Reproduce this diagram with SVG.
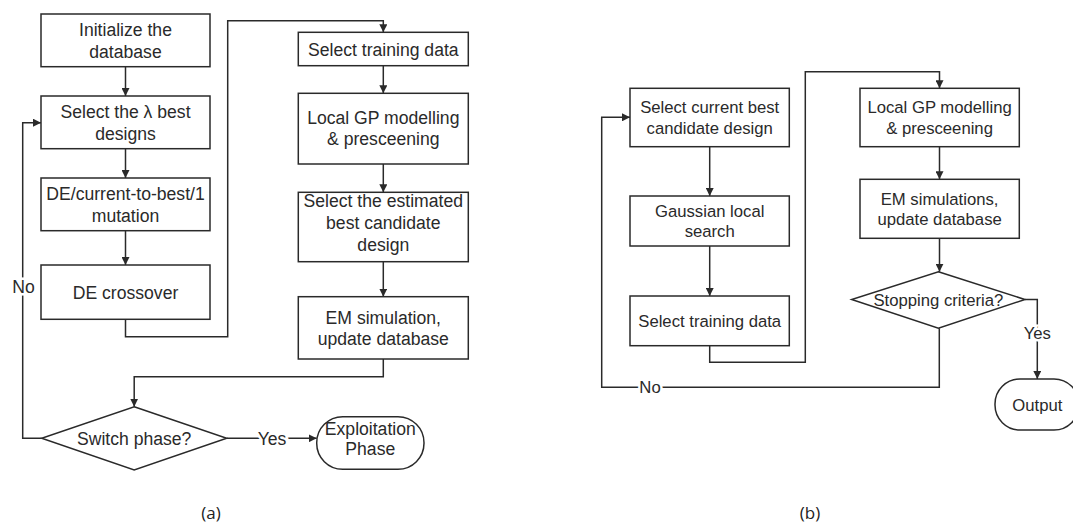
<svg xmlns="http://www.w3.org/2000/svg" width="1073" height="525" viewBox="0 0 1073 525">
  <style>
    .box { fill: #fff; stroke: #2a2a2a; stroke-width: 1.5; }
    .wire { fill: none; stroke: #2a2a2a; stroke-width: 1.5; }
    .arrow { marker-end: url(#head); }
    text { font-family: "Liberation Sans", Arial, sans-serif; fill: #2a2a2a; text-anchor: middle; }
    .l { font-size: 17.6px; }
    .r { font-size: 16.7px; }
    .tag { stroke: #fff; stroke-width: 5; paint-order: stroke; }
    .cap { font-family: "Open Sans", "Liberation Sans", sans-serif; font-size: 17px; fill: #222; }
  </style>
  <defs>
    <marker id="head" markerUnits="userSpaceOnUse" markerWidth="9" markerHeight="8" refX="8" refY="4" orient="auto">
      <path d="M0,0 L8,4 L0,8 z" fill="#2a2a2a"/>
    </marker>
  </defs>
  <rect width="1073" height="525" fill="#fff"/>

  <!-- connectors -->
  <g id="connectors">
    <!-- panel (a) -->
    <path class="wire arrow" d="M125.5,66.7 V96"/>
    <path class="wire arrow" d="M125.5,148.7 V178"/>
    <path class="wire arrow" d="M125.5,230.7 V265"/>
    <path class="wire arrow" d="M125.5,319.3 V336.7 H227.7 V20.7 H383.3 V32.3"/>
    <path class="wire arrow" d="M383.3,65.7 V93.3"/>
    <path class="wire arrow" d="M383.3,164 V192.3"/>
    <path class="wire arrow" d="M383.3,261.7 V296.7"/>
    <path class="wire arrow" d="M383.3,359 V376.7 H134.2 V406.7"/>
    <path class="wire arrow" d="M41.7,438.3 H22.7 V122.7 H41"/>
    <path class="wire arrow" d="M226.7,438.3 H316.7"/>
    <text class="l tag" x="23.5" y="293">No</text>
    <text class="l tag" x="272" y="444.5">Yes</text>

    <!-- panel (b) -->
    <path class="wire arrow" d="M709.7,146.7 V196"/>
    <path class="wire arrow" d="M709.7,246 V296"/>
    <path class="wire arrow" d="M709.7,345.7 V362.3 H805.3 V71.7 H939.5 V88.3"/>
    <path class="wire arrow" d="M939.5,146.7 V179.3"/>
    <path class="wire arrow" d="M939.5,238.3 V271.7"/>
    <path class="wire arrow" d="M1025,299.5 H1037.3 V379"/>
    <path class="wire arrow" d="M939.3,328.3 V387.3 H601.7 V117.3 H630"/>
    <text class="r tag" x="1037.3" y="339">Yes</text>
    <text class="r tag" x="650" y="393">No</text>
  </g>

  <!-- panel (a) nodes -->
  <g id="init-db">
    <rect class="box" x="41" y="14" width="169" height="52.7"/>
    <text class="l" x="125.5" y="36">Initialize the</text>
    <text class="l" x="125.5" y="57.5">database</text>
  </g>
  <g id="select-best">
    <rect class="box" x="41" y="96" width="169" height="52.7"/>
    <text class="l" x="125.5" y="118">Select the λ best</text>
    <text class="l" x="125.5" y="139.5">designs</text>
  </g>
  <g id="de-mutation">
    <rect class="box" x="41" y="178" width="169" height="52.7"/>
    <text class="l" x="125.5" y="200">DE/current-to-best/1</text>
    <text class="l" x="125.5" y="221.5">mutation</text>
  </g>
  <g id="de-crossover">
    <rect class="box" x="41" y="265" width="169" height="54.3"/>
    <text class="l" x="125.5" y="299.3">DE crossover</text>
  </g>
  <g id="select-training-a">
    <rect class="box" x="298.3" y="32.3" width="170" height="33.4"/>
    <text class="l" x="383.3" y="55.8">Select training data</text>
  </g>
  <g id="gp-model-a">
    <rect class="box" x="298.3" y="93.3" width="170" height="70.7"/>
    <text class="l" x="383.3" y="123.8">Local GP modelling</text>
    <text class="l" x="383.3" y="145">&amp; presceening</text>
  </g>
  <g id="select-estimated">
    <rect class="box" x="298.3" y="192.3" width="170" height="69.4"/>
    <text class="l" x="383.3" y="206.5">Select the estimated</text>
    <text class="l" x="383.3" y="228.7">best candidate</text>
    <text class="l" x="383.3" y="250.9">design</text>
  </g>
  <g id="em-sim-a">
    <rect class="box" x="298.3" y="296.7" width="170" height="62.3"/>
    <text class="l" x="383.3" y="324">EM simulation,</text>
    <text class="l" x="383.3" y="345">update database</text>
  </g>
  <g id="switch-phase">
    <polygon class="box" points="134.2,406.7 226.7,438.3 134.2,470 41.7,438.3"/>
    <text class="l" x="134.2" y="444.5">Switch phase?</text>
  </g>
  <g id="exploitation">
    <rect class="box" x="316.7" y="416.7" width="107.3" height="52.6" rx="26" ry="26"/>
    <text class="l" x="370.3" y="435">Exploitation</text>
    <text class="l" x="370.3" y="455">Phase</text>
  </g>

  <!-- panel (b) nodes -->
  <g id="select-current">
    <rect class="box" x="630" y="88.3" width="159.3" height="58.4"/>
    <text class="r" x="709.7" y="113.3">Select current best</text>
    <text class="r" x="709.7" y="134">candidate design</text>
  </g>
  <g id="gaussian-search">
    <rect class="box" x="630" y="196" width="159.3" height="50"/>
    <text class="r" x="709.7" y="216.7">Gaussian local</text>
    <text class="r" x="709.7" y="237">search</text>
  </g>
  <g id="select-training-b">
    <rect class="box" x="630" y="296" width="159.3" height="49.7"/>
    <text class="r" x="709.7" y="327">Select training data</text>
  </g>
  <g id="gp-model-b">
    <rect class="box" x="860" y="88.3" width="159.3" height="58.4"/>
    <text class="r" x="939.6" y="113.3">Local GP modelling</text>
    <text class="r" x="939.6" y="134">&amp; presceening</text>
  </g>
  <g id="em-sim-b">
    <rect class="box" x="860" y="179.3" width="159.3" height="59"/>
    <text class="r" x="939.6" y="204.5">EM simulations,</text>
    <text class="r" x="939.6" y="225">update database</text>
  </g>
  <g id="stopping">
    <polygon class="box" points="938.4,271.7 1025,299.5 938.4,328.3 851.7,299.5"/>
    <text class="r" x="938.4" y="306">Stopping criteria?</text>
  </g>
  <g id="output">
    <rect class="box" x="995" y="379" width="84" height="51" rx="25" ry="25"/>
    <text class="r" x="1037.3" y="410.5">Output</text>
  </g>

  <!-- panel captions -->
  <text class="cap" x="211" y="519">(a)</text>
  <text class="cap" x="810" y="519">(b)</text>
</svg>
